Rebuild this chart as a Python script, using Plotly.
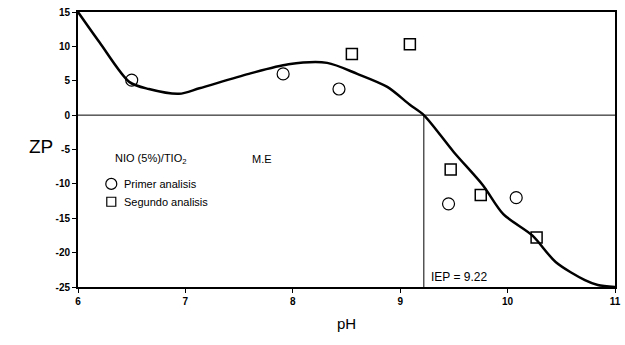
import plotly.graph_objects as go

# Data
curve_ph = [6.0, 6.2, 6.48, 6.66, 6.94, 7.13, 7.59, 7.96, 8.32, 8.6, 8.88, 9.09, 9.22, 9.5, 9.77, 9.96, 10.23, 10.45, 10.72, 10.84, 11.0]
curve_zp = [15.0, 10.6, 4.8, 3.8, 3.1, 3.9, 6.0, 7.4, 7.6, 6.0, 4.1, 1.5, 0.0, -5.4, -10.2, -14.4, -17.5, -21.4, -24.0, -24.7, -25.0]
primer_ph = [6.5, 7.91, 8.43, 9.45, 10.08]
primer_zp = [5.1, 6.0, 3.8, -12.9, -12.0]
segundo_ph = [8.55, 9.09, 9.47, 9.75, 10.27]
segundo_zp = [8.9, 10.3, -7.9, -11.6, -17.8]
iep = 9.22
x_ticks = [6, 7, 8, 9, 10, 11]
y_ticks = [-25, -20, -15, -10, -5, 0, 5, 10, 15]
y_tick_text = ["-25", "-20", "-15", "-10", "-5", "0", "5", "10", "15"]

FONT = "Liberation Sans, Arial, sans-serif"

fig = go.Figure()
fig.add_trace(go.Scatter(x=curve_ph, y=curve_zp, mode="lines",
                         line=dict(color="black", width=2.5, shape="spline", smoothing=0.8),
                         showlegend=False, hoverinfo="skip"))
fig.add_trace(go.Scatter(x=primer_ph, y=primer_zp, mode="markers",
                         marker=dict(symbol="circle-open", size=12, color="black", line=dict(width=1.2)),
                         showlegend=False))
fig.add_trace(go.Scatter(x=segundo_ph, y=segundo_zp, mode="markers",
                         marker=dict(symbol="square-open", size=11, color="black", line=dict(width=1.5)),
                         showlegend=False))
# zero line and IEP vertical line
fig.add_shape(type="line", x0=6, x1=11, y0=0, y1=0, line=dict(color="black", width=1))
fig.add_shape(type="line", x0=iep, x1=iep, y0=-25, y1=0, line=dict(color="black", width=1))

# legend-like annotations drawn inside the plot
fig.add_trace(go.Scatter(x=[6.31], y=[-10.0], mode="markers",
                         marker=dict(symbol="circle-open", size=11, color="black", line=dict(width=1.2)),
                         showlegend=False, hoverinfo="skip"))
fig.add_trace(go.Scatter(x=[6.31], y=[-12.6], mode="markers",
                         marker=dict(symbol="square-open", size=9, color="black", line=dict(width=1.2)),
                         showlegend=False, hoverinfo="skip"))
fig.add_annotation(x=6.41, y=-10.0, text="Primer analisis", showarrow=False, xanchor="left",
                   font=dict(family=FONT, size=11, color="black"))
fig.add_annotation(x=6.41, y=-12.6, text="Segundo analisis", showarrow=False, xanchor="left",
                   font=dict(family=FONT, size=11, color="black"))
fig.add_annotation(x=6.33, y=-6.4, text="NIO (5%)/TIO<sub>2</sub>", showarrow=False, xanchor="left",
                   font=dict(family=FONT, size=11, color="black"))
fig.add_annotation(x=7.6, y=-6.4, text="M.E", showarrow=False, xanchor="left",
                   font=dict(family=FONT, size=11, color="black"))
fig.add_annotation(x=iep + 0.05, y=-23.6, text="IEP = 9.22", showarrow=False, xanchor="left",
                   font=dict(family=FONT, size=12, color="black"))

axis_common = dict(showline=True, linecolor="black", linewidth=2, mirror=True,
                   showgrid=False, zeroline=False, ticks="outside", ticklen=4,
                   tickcolor="black", tickfont=dict(family=FONT, size=10, color="black", weight="bold"))

fig.update_xaxes(range=[6, 11], tickvals=x_ticks, **axis_common,
                 title=dict(text="pH", font=dict(family=FONT, size=15, color="black"), standoff=12))
fig.update_yaxes(range=[-25, 15], tickvals=y_ticks, ticktext=y_tick_text, **axis_common)
fig.add_annotation(xref="paper", yref="paper", x=-0.095, y=0.51, text="ZP", showarrow=False,
                   font=dict(family=FONT, size=19, color="black"))

fig.update_layout(width=625, height=345, margin=dict(l=78, r=4, t=12, b=58),
                  plot_bgcolor="white", paper_bgcolor="white")

fig.write_html("out.html")
